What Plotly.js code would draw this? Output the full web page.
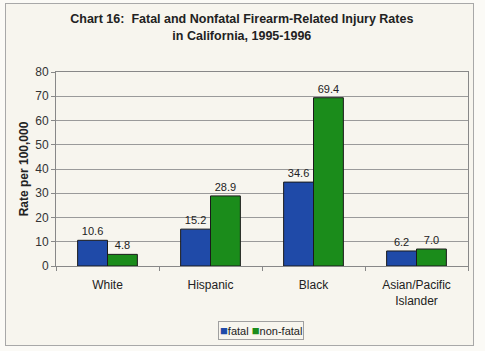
<!DOCTYPE html>
<html><head><meta charset="utf-8">
<script src="https://cdn.plot.ly/plotly-3.0.1.min.js"></script>
<style>
html,body{margin:0;padding:0;background:#fbfaf6;width:485px;height:351px;overflow:hidden;}
#frame{position:absolute;left:5px;top:3px;width:467px;height:341px;border:1px solid #a8a8a8;background:#f7f5ee;}
#chart{width:467px;height:341px;}
</style></head>
<body><div id="frame"><div id="chart"></div></div>
<script>
const categories = ["White", "Hispanic", "Black", "Asian/Pacific<br>Islander"];
const seriesNames = ["fatal", "non-fatal"];
const fatal = [10.6, 15.2, 34.6, 6.2];
const nonFatal = [4.8, 28.9, 69.4, 7.0];
const fatalLabels = ["10.6", "15.2", "34.6", "6.2"];
const nonFatalLabels = ["4.8", "28.9", "69.4", "7.0"];
const yTicks = [0, 10, 20, 30, 40, 50, 60, 70, 80];

const bg = "#f7f5ee";
const colors = ["#1f4aa8", "#1b8c1b"];
const traces = [
  {type: "bar", name: seriesNames[0], x: categories, y: fatal, text: fatalLabels,
   textposition: "outside", cliponaxis: false, textfont: {size: 11, color: "#222"},
   marker: {color: colors[0], line: {color: "#1a1a1a", width: 1}}},
  {type: "bar", name: seriesNames[1], x: categories, y: nonFatal, text: nonFatalLabels,
   textposition: "outside", cliponaxis: false, textfont: {size: 11, color: "#222"},
   marker: {color: colors[1], line: {color: "#1a1a1a", width: 1}}}
];
const legendText = seriesNames.map((n, i) =>
  "<span style='color:" + colors[i] + ";font-size:13px'>■</span>" + n).join(" ");
const layout = {
  width: 467, height: 341,
  margin: {l: 50, r: 5, t: 68, b: 79},
  paper_bgcolor: bg, plot_bgcolor: bg,
  font: {family: "Liberation Sans, Arial, sans-serif", color: "#222", size: 12},
  title: {text: "<b>Chart 16:  Fatal and Nonfatal Firearm-Related Injury Rates<br>in California, 1995-1996</b>",
    font: {size: 12.5, color: "#222"}, x: 0.505, xanchor: "center", yref: "container", y: 0.943, yanchor: "middle"},
  bargap: 0.42, bargroupgap: 0,
  showlegend: false,
  annotations: [{xref: "paper", yref: "paper", x: 0.497, y: -0.335, xanchor: "center", yanchor: "middle",
    text: legendText, showarrow: false, font: {size: 11, color: "#222"},
    bordercolor: "#a0a0a0", borderwidth: 1, borderpad: 1, bgcolor: bg}],
  xaxis: {tickfont: {size: 12, color: "#222"}, showline: true, linecolor: "#888", linewidth: 1,
    mirror: true, ticks: "outside", ticklen: 4, tickcolor: "#888", tickson: "boundaries", showgrid: false,
    ticklabelstandoff: 8},
  yaxis: {range: [0, 80], tickvals: yTicks, ticktext: yTicks.map(String), tickfont: {size: 12, color: "#333"},
    showgrid: true, gridcolor: "#9a9a9a", gridwidth: 1, showline: true, linecolor: "#888", mirror: true,
    ticks: "outside", ticklen: 4, tickcolor: "#888", zeroline: false,
    title: {text: "<b>Rate per 100,000</b>", font: {size: 12, color: "#222"}, standoff: 4}}
};
Plotly.newPlot("chart", traces, layout, {displayModeBar: false, staticPlot: true});
</script></body></html>
